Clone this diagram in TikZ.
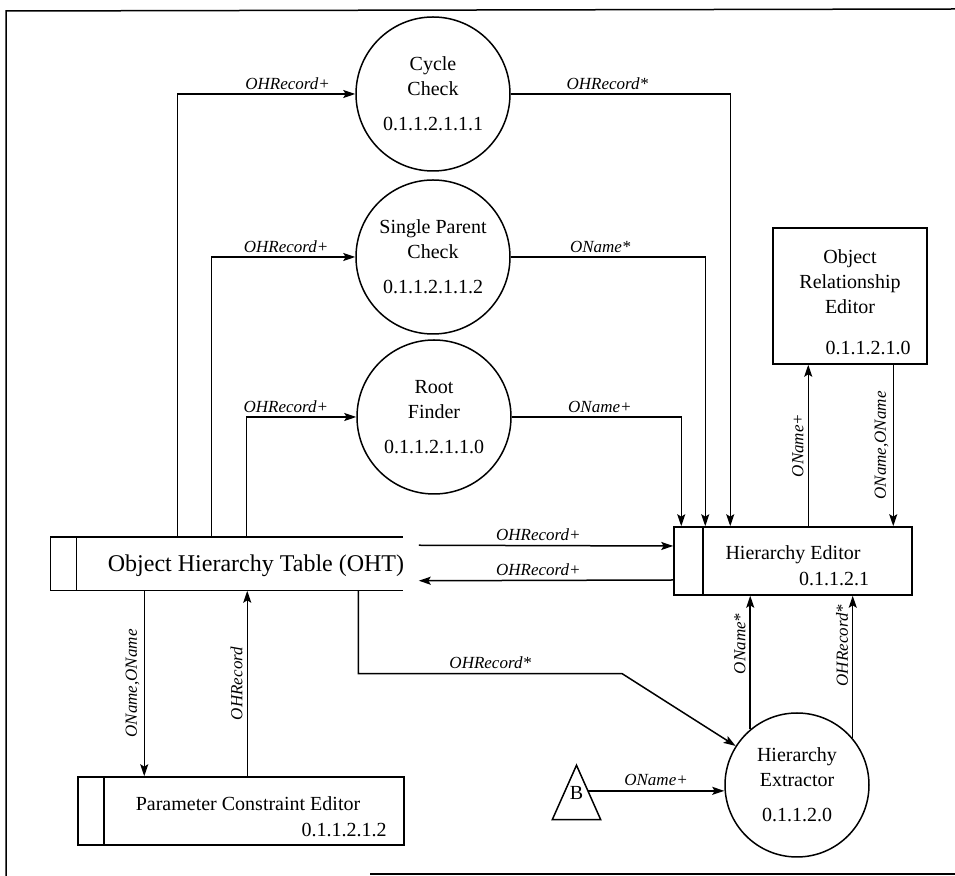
\documentclass[tikz,border=0pt]{standalone}
\usepackage{fontspec}
\setmainfont{Liberation Serif}
\usetikzlibrary{arrows.meta, calc}
\tikzset{
  proc/.style={circle, draw, align=center, minimum size=77pt, inner sep=0pt,
               font=\fontsize{10}{12.5}\selectfont},
  tabbox/.style={rectangle, draw, minimum height=34pt,
                 path picture={\draw ([xshift=#1]path picture bounding box.north west)
                                 -- ([xshift=#1]path picture bounding box.south west);}},
  tabbox/.default=13pt,
  nametxt/.style={font=\fontsize{10}{12.5}\selectfont, align=center, inner sep=0pt},
  dlabel/.style={font=\fontsize{8.5}{10}\selectfont\itshape, inner sep=2pt},
  flow/.style={-{Stealth[length=6pt, width=4pt, inset=1.2pt]}},
}

\begin{document}
\begin{tikzpicture}[x=0.5pt, y=-0.5pt, line width=0.75pt]
  \useasboundingbox (0,0) rectangle (955,876);
  % frame
  \draw (955,9) -- (6,11) -- (6,876);
  \draw (370,874) -- (955,874);

  % processes
  \node[proc] (cyc)  at (433,94)  {Cycle\\Check\\[5pt]0.1.1.2.1.1.1};
  \node[proc] (spc)  at (433,257) {Single Parent\\Check\\[5pt]0.1.1.2.1.1.2};
  \node[proc] (root) at (434,417) {Root\\Finder\\[5pt]0.1.1.2.1.1.0};
  \node[proc, minimum size=72pt] (hx) at (797,785) {Hierarchy\\Extractor\\[5pt]0.1.1.2.0};

  % editors
  \node[tabbox=14.5pt, minimum width=119pt] (he) at (793,561) {};
  \node[nametxt] (hename) at (793,555) {Hierarchy Editor};
  \node[nametxt] (henum)  at (834,579) {0.1.1.2.1};
  \node[tabbox, minimum width=163pt] (pce) at (241,811) {};
  \node[nametxt] (pcename) at (248,804) {Parameter Constraint Editor};
  \node[nametxt] (pcenum)  at (344,830) {0.1.1.2.1.2};
  \node[draw, minimum width=77pt, minimum height=68pt] (ore) at (850,296) {};
  \node[nametxt] (orename) at (850,282) {Object\\Relationship\\Editor};
  \node[nametxt] (orenum)  at (868,348) {0.1.1.2.1.0};

  % data store, open on the right
  \node[minimum width=175.5pt, minimum height=26pt] (oht) at (226.5,564) {};
  \draw (oht.north east) -- (oht.north west) -- (oht.south west) -- (oht.south east);
  \draw ([shift={(26,0)}]oht.north west) -- ([shift={(26,0)}]oht.south west);
  \node[nametxt, font=\fontsize{12}{14}\selectfont] (ohtname) at (256,566) {Object Hierarchy Table (OHT)};

  % external B
  \node[minimum width=23.5pt, minimum height=26.5pt, inner sep=0pt] (bsrc) at (576.5,792.5) {\raisebox{-4.5pt}{B}};
  \draw (bsrc.north) -- (bsrc.south east) -- (bsrc.south west) -- cycle;

  % table to the checks
  \draw[flow] ([shift={(127,0)}]oht.north west) |- node[dlabel, above, pos=0.81] {OHRecord+} (cyc);
  \draw[flow] ([shift={(161,0)}]oht.north west) |- node[dlabel, above, pos=0.76] {OHRecord+} (spc);
  \draw[flow] ([shift={(196,0)}]oht.north west) |- node[dlabel, above, pos=0.68] {OHRecord+} (root);

  % checks to the hierarchy editor
  \draw[flow] (cyc)  -| node[dlabel, above, pos=0.22] {OHRecord*} ([shift={(57,0)}]he.north west);
  \draw[flow] (spc)  -| node[dlabel, above, pos=0.23] {OName*} ([shift={(32,0)}]he.north west);
  \draw[flow] (root) -| node[dlabel, above, pos=0.26] {OName+} ([shift={(8,0)}]he.north west);

  % table and hierarchy editor
  \draw[flow] ([shift={(16,8)}]oht.north east) -- node[dlabel, above, pos=0.47] {OHRecord+} ([shift={(0,-15)}]he.west);
  \draw[flow] ([shift={(0,19)}]he.west) -- node[dlabel, above, pos=0.53] {OHRecord+} ([shift={(16,-10)}]oht.south east);

  % hierarchy editor and relationship editor
  \draw[flow] ([shift={(135,0)}]he.north west) -- node[dlabel, midway, rotate=90, anchor=south] {OName+} ([shift={(36,0)}]ore.south west);
  \draw[flow] ([shift={(121,0)}]ore.south west) -- node[dlabel, midway, rotate=90, anchor=south] {OName,OName} ([shift={(220,0)}]he.north west);

  % table and parameter constraint editor
  \draw[flow] ([shift={(94,0)}]oht.south west) -- node[dlabel, midway, rotate=90, anchor=south] {OName,OName} ([shift={(67,0)}]pce.north west);
  \draw[flow] ([shift={(170,0)}]pce.north west) -- node[dlabel, midway, rotate=90, anchor=south] {OHRecord} ([shift={(197,0)}]oht.south west);

  % extractor
  \draw[flow] ([shift={(308,0)}]oht.south west) -- ++(0,83) -- node[dlabel, above] {OHRecord*} ++(264,0) -- (hx);
  \draw[flow] (hx.130) -- node[dlabel, pos=0.64, rotate=90, anchor=south] {OName*} (hx.130 |- he.south);
  \draw[flow] (hx.40) -- node[dlabel, pos=0.65, rotate=90, anchor=south] {OHRecord*} (hx.40 |- he.south);
  \draw[flow] ($(bsrc.north)!0.47!(bsrc.south east)$) coordinate (bout) -- node[dlabel, above] {OName+} (bout -| hx.west);
\end{tikzpicture}
\end{document}
